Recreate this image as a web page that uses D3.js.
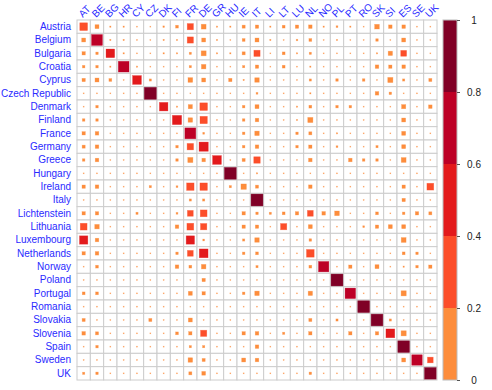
<!DOCTYPE html>
<html><head><meta charset="utf-8">
<script src="https://cdn.jsdelivr.net/npm/d3@7"></script>
<style>
body{margin:0;background:#fff;}
svg{display:block;font-family:"Liberation Sans",Arial,sans-serif;}
</style></head>
<body><svg id="chart" width="492" height="390"></svg>
<script>
const rowLabels = ["Austria","Belgium","Bulgaria","Croatia","Cyprus","Czech Republic","Denmark","Finland","France","Germany","Greece","Hungary","Ireland","Italy","Lichtenstein","Lithuania","Luxembourg","Netherlands","Norway","Poland","Portugal","Romania","Slovakia","Slovenia","Spain","Sweden","UK"];
const colLabels = ["AT","BE","BG","HR","CY","CZ","DK","FI","FR","DE","GR","HU","IE","IT","LI","LT","LU","NL","NO","PL","PT","RO","SK","SI","ES","SE","UK"];
const legendTicks = [0,0.2,0.4,0.6,0.8,1];
const legendColors = ["#FD8D3C","#FC4E2A","#E31A1C","#BD0026","#800026"];
const matrix = [
[.39,.10,.01,.01,.005,.005,.015,.05,.25,.15,.01,.01,.06,.07,.01,.05,.07,.08,.01,.02,.01,.005,.14,.08,.08,.005,.005],
[.10,.78,.01,.01,.005,.005,.01,.01,.25,.10,.01,.005,.05,.10,.01,.005,.015,.05,.005,.01,.005,.005,.04,.005,.10,.005,.005],
[.07,.04,.48,.01,.005,.005,.01,.01,.03,.16,.01,.01,.06,.25,.005,.05,.01,.03,.005,.005,.005,.005,.01,.12,.22,.005,.005],
[.04,.04,.01,.75,.01,.005,.005,.005,.03,.13,.005,.005,.03,.07,.005,.05,.005,.01,.005,.005,.005,.005,.08,.07,.08,.005,.005],
[.07,.10,.05,.005,.50,.03,.005,.005,.14,.10,.005,.07,.01,.13,.005,.005,.005,.03,.005,.04,.005,.04,.005,.17,.03,.005,.06],
[.005,.005,.005,.005,.005,.95,.005,.005,.005,.005,.005,.005,.005,.02,.005,.005,.005,.01,.005,.005,.005,.005,.08,.04,.005,.005,.005],
[.005,.04,.005,.005,.005,.005,.47,.01,.11,.38,.005,.005,.04,.10,.005,.005,.01,.05,.005,.04,.04,.005,.005,.005,.11,.005,.08],
[.04,.04,.005,.005,.005,.005,.005,.55,.13,.35,.005,.005,.04,.08,.005,.005,.01,.17,.005,.005,.005,.005,.005,.005,.10,.005,.005],
[.07,.08,.005,.005,.005,.005,.005,.005,.78,.02,.005,.005,.04,.13,.005,.005,.04,.06,.005,.01,.005,.005,.005,.005,.10,.005,.005],
[.06,.08,.005,.005,.005,.005,.005,.04,.27,.55,.005,.005,.04,.08,.005,.005,.04,.07,.005,.02,.005,.005,.03,.005,.10,.005,.005],
[.04,.08,.005,.005,.005,.005,.005,.04,.17,.08,.50,.005,.06,.27,.005,.005,.005,.08,.005,.005,.08,.04,.04,.005,.15,.005,.005],
[.005,.005,.005,.005,.005,.005,.005,.005,.005,.005,.005,.92,.005,.01,.005,.005,.005,.005,.005,.005,.005,.005,.005,.005,.005,.005,.005],
[.07,.08,.005,.005,.005,.03,.005,.02,.36,.36,.005,.03,.19,.06,.005,.005,.005,.08,.005,.005,.005,.005,.005,.005,.07,.005,.30],
[.005,.005,.005,.005,.005,.005,.005,.005,.03,.03,.005,.005,.005,.92,.005,.005,.005,.005,.005,.005,.005,.005,.005,.005,.07,.005,.005],
[.07,.07,.005,.005,.03,.005,.005,.02,.22,.30,.005,.005,.07,.04,.03,.05,.07,.22,.08,.14,.005,.005,.05,.005,.04,.07,.06],
[.30,.13,.005,.005,.005,.005,.005,.08,.30,.26,.005,.005,.07,.07,.005,.25,.005,.10,.005,.005,.005,.02,.07,.10,.10,.005,.005],
[.45,.08,.005,.005,.005,.005,.005,.005,.45,.02,.005,.005,.03,.13,.005,.005,.005,.04,.005,.005,.005,.005,.005,.005,.15,.005,.005],
[.07,.08,.005,.005,.005,.005,.005,.04,.22,.50,.005,.005,.04,.05,.005,.005,.005,.38,.005,.005,.005,.005,.005,.005,.05,.04,.005],
[.005,.05,.005,.005,.005,.005,.005,.08,.05,.13,.005,.005,.005,.03,.005,.005,.005,.05,.70,.005,.07,.005,.10,.005,.01,.04,.07],
[.005,.005,.005,.005,.005,.005,.005,.005,.005,.07,.005,.005,.005,.005,.005,.005,.005,.01,.005,.92,.005,.005,.005,.005,.005,.005,.005],
[.05,.05,.005,.005,.005,.005,.005,.005,.10,.07,.005,.005,.04,.13,.005,.005,.005,.12,.005,.005,.72,.005,.005,.005,.17,.005,.005],
[.005,.005,.005,.005,.005,.005,.005,.005,.005,.005,.005,.005,.005,.005,.005,.005,.005,.005,.005,.005,.005,.92,.005,.005,.005,.005,.005],
[.06,.005,.005,.005,.005,.06,.005,.005,.10,.005,.005,.005,.005,.005,.005,.005,.005,.06,.005,.03,.005,.005,.90,.03,.005,.005,.005],
[.08,.06,.005,.005,.005,.005,.005,.05,.07,.25,.005,.005,.07,.08,.005,.03,.005,.07,.005,.005,.07,.005,.07,.50,.17,.005,.005],
[.005,.04,.005,.005,.005,.005,.005,.005,.03,.03,.005,.005,.005,.08,.005,.005,.005,.005,.005,.005,.005,.005,.005,.005,.90,.005,.005],
[.005,.005,.005,.005,.005,.005,.005,.005,.13,.06,.005,.005,.10,.08,.005,.005,.005,.005,.005,.005,.005,.005,.005,.005,.10,.72,.21],
[.03,.04,.005,.005,.005,.005,.005,.005,.06,.09,.005,.005,.005,.005,.005,.005,.005,.04,.005,.005,.005,.005,.005,.005,.005,.005,.90]
];

const svg = d3.select("#chart");
const gx0 = 77, gx1 = 437, gy0 = 20, gy1 = 380;
const x = d3.scaleBand().domain(colLabels).range([gx0, gx1]);
const y = d3.scaleBand().domain(rowLabels).range([gy0, gy1]);
const bw = x.bandwidth(), bh = y.bandwidth();
const color = d3.scaleThreshold().domain([0.2,0.4,0.6,0.8]).range(legendColors);

const cells = [];
matrix.forEach((row, i) => row.forEach((v, j) => cells.push({r: rowLabels[i], c: colLabels[j], v})));

// grid
svg.append("g").selectAll("rect").data(cells).join("rect")
  .attr("x", d => x(d.c)).attr("y", d => y(d.r))
  .attr("width", bw).attr("height", bh)
  .attr("fill", "#fff").attr("stroke", "#cccccc").attr("stroke-width", 1);

// squares
svg.append("g").selectAll("rect").data(cells).join("rect")
  .attr("x", d => x(d.c) + bw/2 - bw*0.93*Math.sqrt(d.v)/2)
  .attr("y", d => y(d.r) + bh/2 - bh*0.93*Math.sqrt(d.v)/2)
  .attr("width", d => bw*0.93*Math.sqrt(d.v))
  .attr("height", d => bh*0.93*Math.sqrt(d.v))
  .attr("fill", d => color(d.v))
  .attr("stroke", d => color(d.v)).attr("stroke-opacity", 0.5).attr("stroke-width", 0.6);

// row labels
const ya = svg.append("g").attr("transform", "translate(74,0)")
  .call(d3.axisLeft(y).tickSize(0).tickPadding(3));
ya.select(".domain").remove();
ya.selectAll("text").attr("fill", "#2a2aff").style("font-size", "10px").style("font-family", "'Liberation Sans',Arial,sans-serif");

// column labels
const xa = svg.append("g").attr("transform", "translate(0,18)")
  .call(d3.axisTop(x).tickSize(0).tickPadding(0));
xa.select(".domain").remove();
xa.selectAll("text")
  .attr("fill", "#2a2aff").style("font-size", "10px").style("font-family", "'Liberation Sans',Arial,sans-serif")
  .attr("text-anchor", "start").attr("x", 0).attr("y", 0).attr("dy", 0)
  .attr("transform", "translate(-1,0) rotate(-45)");

// legend
const lx0 = 443, lx1 = 457;
const ly = d3.scaleLinear().domain([0,1]).range([gy1, gy0]);
svg.append("g").selectAll("rect").data(legendColors).join("rect")
  .attr("x", lx0).attr("width", lx1 - lx0)
  .attr("y", (d,i) => ly(legendTicks[i+1]))
  .attr("height", (d,i) => ly(legendTicks[i]) - ly(legendTicks[i+1]))
  .attr("fill", d => d);
svg.append("rect").attr("x", lx0).attr("y", gy0).attr("width", lx1-lx0).attr("height", gy1-gy0)
  .attr("fill", "none").attr("stroke", "#bbbbbb").attr("stroke-width", 1);
const la = svg.append("g").attr("transform", `translate(${lx1},0)`)
  .call(d3.axisRight(ly).tickValues(legendTicks).tickSize(3).tickPadding(0).tickFormat(d3.format("~g")));
la.select(".domain").remove();
la.selectAll("line").attr("stroke", "#555");
la.selectAll("text").attr("text-anchor", "middle").attr("x", 17)
  .attr("fill", "#222").style("font-size", "10px").style("font-family", "'Liberation Sans',Arial,sans-serif");
</script></body></html>
